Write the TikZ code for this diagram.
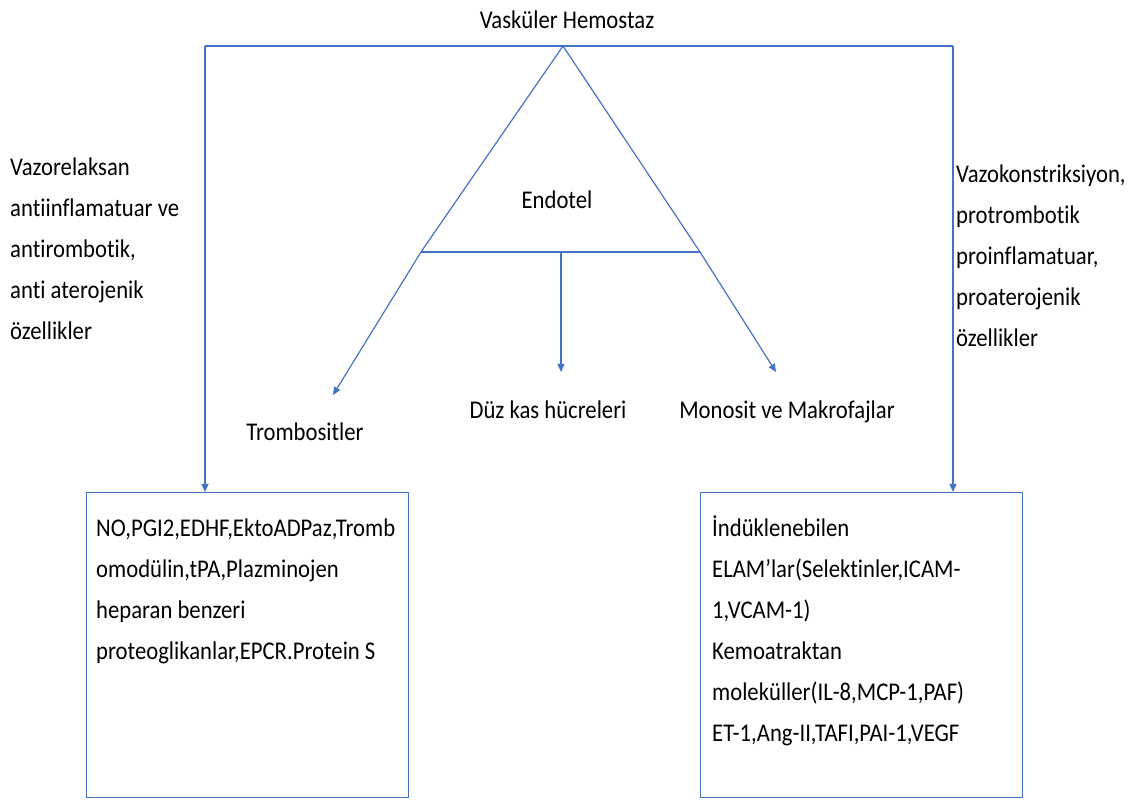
\documentclass[tikz,border=0pt]{standalone}
\usepackage{fontspec}
\setmainfont{Carlito}[FakeStretch=0.89, Ligatures=NoCommon]
\usetikzlibrary{arrows.meta}
\definecolor{lineblue}{RGB}{68,114,196}
\tikzstyle{txt} = [inner sep=0pt, font=\fontsize{25.5}{41}\selectfont]
\tikzstyle{note} = [txt, align=left, anchor=north west]
\tikzstyle{box} = [rectangle, draw=lineblue, line width=1.2pt, minimum width=322pt, minimum height=305pt, anchor=north west]
\tikzstyle{line} = [draw=lineblue, line width=1.2pt]
\tikzstyle{arrow} = [line, -{Triangle[length=8pt,width=7pt]}]

\begin{document}
\begin{tikzpicture}[x=1pt, y=1pt]
			\useasboundingbox (0,0) rectangle (1144,801);
			% frame
			\node (title) [txt] at (567,781) {Vasküler Hemostaz};
			\coordinate (tl) at (205,755);
			\coordinate (tr) at (953,755);
			\coordinate (apex) at (563,755);
			\coordinate (bl) at (421,549);
			\coordinate (br) at (700,549);
			\coordinate (bm) at (561,549);
			\draw [line, line width=2pt] (tl) -- (tr);
			\draw [line] (apex) -- (bl) (apex) -- (br);
			\draw [line, line width=1.6pt] (bl) -- (br);
			\node (endo) [txt] at (557,601) {Endotel};
			
			% cells
			\node (tromb) [txt] at (305,369) {Trombositler};
			\node (duz) [txt] at (548,391) {Düz kas hücreleri};
			\node (mono) [txt] at (787,389) {Monosit ve Makrofajlar};
			\coordinate (tipl) at (333,406);
			\coordinate (tipm) at (561,429);
			\coordinate (tipr) at (776,429);
			\draw [arrow] (bl) -- (tipl);
			\draw [arrow] (bm) -- (tipm);
			\draw [arrow] (br) -- (tipr);
			
			% side notes
			\node (anti) [note] at (10,643) {Vazorelaksan\\antiinflamatuar ve\\antirombotik,\\anti aterojenik\\özellikler};
			\node (pro) [note] at (956,636) {Vazokonstriksiyon,\\protrombotik\\proinflamatuar,\\proaterojenik\\özellikler};
			
			% boxes
			\node (lbox) [box] at (86,309) {};
			\node (rbox) [box] at (700,309) {};
			\node (ltext) [note] at (96,282) {NO,PGI2,EDHF,EktoADPaz,Tromb\\omodülin,tPA,Plazminojen\\heparan benzeri\\proteoglikanlar,EPCR.Protein S};
			\node (rtext) [note] at (712,286) {İndüklenebilen\\ELAM’lar(Selektinler,ICAM-\\1,VCAM-1)\\Kemoatraktan\\moleküller(IL-8,MCP-1,PAF)\\ET-1,Ang-II,TAFI,PAI-1,VEGF};
			\draw [arrow] (tl) -- (tl |- lbox.north);
			\draw [arrow] (tr) -- (tr |- rbox.north);
		\end{tikzpicture}
\end{document}
